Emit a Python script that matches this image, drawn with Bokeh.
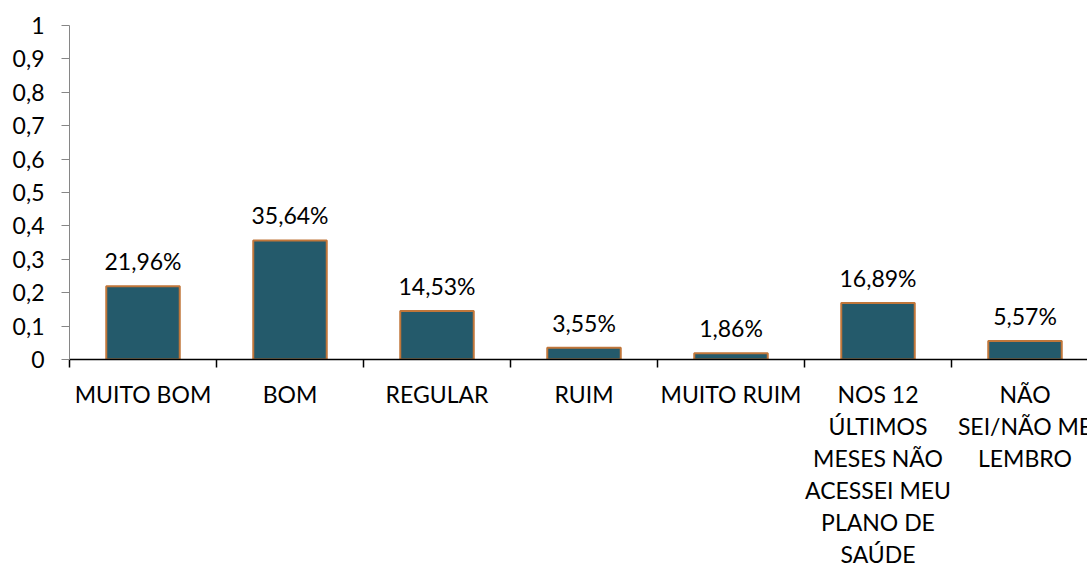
from bokeh.plotting import figure
from bokeh.models import (FactorRange, Range1d, LinearAxis, CategoricalAxis,
                          FixedTicker, CustomJSTickFormatter)
from bokeh.core.properties import value
from bokeh.embed import file_html
from bokeh.resources import INLINE

# ---- data ----
categories = ["MUITO BOM", "BOM", "REGULAR", "RUIM", "MUITO RUIM",
              "NOS 12 ÚLTIMOS MESES NÃO ACESSEI MEU PLANO DE SAÚDE",
              "NÃO SEI/NÃO ME LEMBRO"]
tick_labels = ["MUITO BOM", "BOM", "REGULAR", "RUIM", "MUITO RUIM",
               "NOS 12\nÚLTIMOS\nMESES NÃO\nACESSEI MEU\nPLANO DE\nSAÚDE",
               "NÃO\nSEI/NÃO ME\nLEMBRO"]
values = [0.2196, 0.3564, 0.1453, 0.0355, 0.0186, 0.1689, 0.0557]
y_ticks = [0, 0.1, 0.2, 0.3, 0.4, 0.5, 0.6, 0.7, 0.8, 0.9, 1.0]
value_labels = [f"{v * 100:.2f}".replace(".", ",") + "%" for v in values]

FONT = "Lato"
FS = "23px"

p = figure(x_range=FactorRange(factors=categories), y_range=Range1d(0, 1),
           frame_width=1029, frame_height=334,
           min_border_left=69, min_border_top=25, min_border_right=0,
           min_border_bottom=0,
           x_axis_location=None, y_axis_location=None,
           output_backend="svg", toolbar_location=None,
           background_fill_color="white", border_fill_color="white")
p.outline_line_color = None
p.xgrid.visible = False
p.ygrid.visible = False

# y axis
yaxis = LinearAxis(ticker=FixedTicker(ticks=y_ticks),
                   formatter=CustomJSTickFormatter(code="""
                       const s = (Math.round(tick * 10) / 10).toString();
                       return s.replace('.', ',');
                   """))
yaxis.axis_line_color = "#868686"
yaxis.axis_line_width = 1
yaxis.major_tick_line_color = "#868686"
yaxis.major_tick_out = 8
yaxis.major_tick_in = 0
yaxis.minor_tick_line_color = None
yaxis.major_label_standoff = 17
yaxis.major_label_text_font = FONT
yaxis.major_label_text_font_size = FS
yaxis.major_label_text_color = "black"
p.add_layout(yaxis, "left")

# boundary-tick axis (ticks between categories, synthetic coords 0..n)
edge_axis = LinearAxis(ticker=FixedTicker(ticks=list(range(len(categories) + 1))))
edge_axis.axis_line_color = "black"
edge_axis.axis_line_width = 1.5
edge_axis.major_tick_line_color = "black"
edge_axis.major_tick_line_width = 1.5
edge_axis.major_tick_out = 8
edge_axis.major_tick_in = 0
edge_axis.minor_tick_line_color = None
edge_axis.major_label_text_font_size = "1px"
edge_axis.major_label_text_alpha = 0
edge_axis.major_label_standoff = 0
p.add_layout(edge_axis, "below")

# category labels: one stacked categorical axis per text line
split = [t.split("\n") for t in tick_labels]
n_lines = max(len(s) for s in split)
for k in range(n_lines):
    line_k = [s[k] if k < len(s) else "" for s in split]
    ax = CategoricalAxis(formatter=CustomJSTickFormatter(
        args=dict(cats=categories, lines=line_k),
        code="""
            const i = cats.indexOf(tick);
            return i >= 0 ? lines[i] : "";
        """))
    ax.axis_line_color = None
    ax.major_tick_line_color = None
    ax.major_tick_out = 0
    ax.major_tick_in = 0
    ax.major_label_standoff = 12 if k == 0 else 1
    ax.major_label_text_font = FONT
    ax.major_label_text_font_size = FS
    ax.major_label_text_color = "black"
    p.add_layout(ax, "below")

p.vbar(x=categories, top=values, width=0.5,
       fill_color="#245A6B", line_color="#C0763A", line_width=2)

p.text(x=categories, y=values, text=value_labels, y_offset=-11,
       text_align="center", text_baseline="bottom",
       text_font=value(FONT), text_font_size=FS, text_color="black")

open("out.html", "w").write(file_html(p, INLINE))
